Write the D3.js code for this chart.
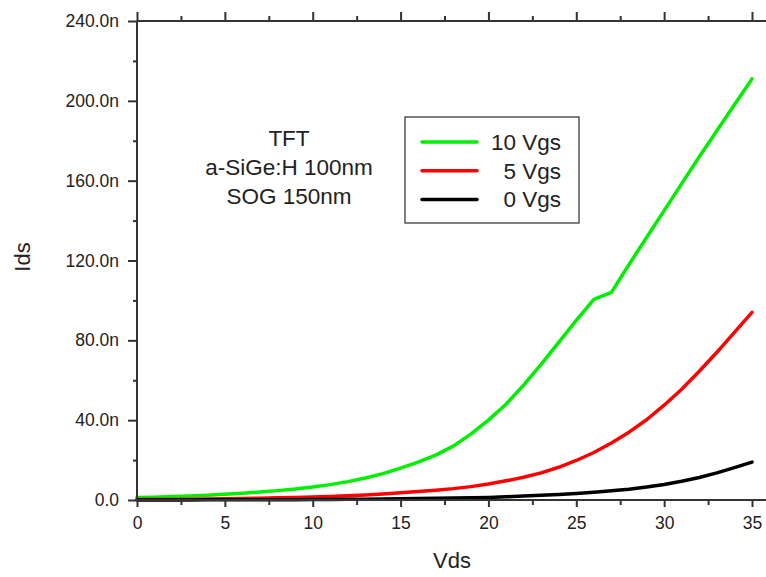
<!DOCTYPE html>
<html lang="en">
	<head>
		<meta charset="utf-8">
		<title>TFT Ids vs Vds</title>
		<script type="text/javascript" src="https://cdn.jsdelivr.net/npm/d3@7"></script>
		<style type="text/css">
			body { margin: 0; background: #fff; }
			text { font-family: "Liberation Sans", Arial, sans-serif; fill: #222; }
		</style>
	</head>
	<body>
		<script type="text/javascript">

			//Width and height
			var w = 766;
			var h = 577;

			//Data (Ids in nA)
			var vds = [0,1,2,3,4,5,6,7,8,9,10,11,12,13,14,15,16,17,18,19,20,21,22,23,24,25,26,27,28,29,30,31,32,33,34,35];
			var ids10 = [1.2,1.4,1.7,2.0,2.4,2.9,3.4,4.0,4.7,5.5,6.5,7.7,9.2,11.0,13.2,16.0,19.0,22.5,27.0,33.0,40.0,48.0,57.5,68.0,79.0,90.0,100.5,104.0,118.0,131.5,145.0,158.5,172.0,185.0,198.0,211.0];
			var ids5 = [0.2,0.25,0.3,0.4,0.5,0.6,0.75,0.9,1.1,1.3,1.5,1.8,2.1,2.5,3.0,3.6,4.2,4.9,5.7,6.7,8.0,9.6,11.4,13.6,16.4,19.8,23.8,28.6,34.0,40.2,47.5,55.5,64.5,74.0,84.0,94.0];
			var ids0 = [0.02,0.03,0.04,0.05,0.07,0.09,0.11,0.13,0.15,0.18,0.22,0.27,0.32,0.39,0.47,0.57,0.69,0.82,0.97,1.13,1.3,1.6,2.0,2.4,2.8,3.3,3.9,4.6,5.4,6.5,7.8,9.4,11.3,13.6,16.2,19.0];

			var seriesNames = ["10 Vgs", "5 Vgs", "0 Vgs"];
			var seriesColors = ["#00ee00", "#ff0000", "#000000"];
			var seriesValues = [ids10, ids5, ids0];

			var xTicks = [0,5,10,15,20,25,30,35];
			var xMinor = [2.5,7.5,12.5,17.5,22.5,27.5,32.5];
			var yTicks = [0,40,80,120,160,200,240];
			var yMinor = [20,60,100,140,180,220];
			var yTickLabels = ["0.0","40.0n","80.0n","120.0n","160.0n","200.0n","240.0n"];

			var noteLines = ["TFT", "a-SiGe:H 100nm", "SOG 150nm"];

			var plotLeft = 137, plotTop = 21, plotBottom = 500;

			var x = d3.scaleLinear().domain([0, 35]).range([plotLeft, 752]);
			var y = d3.scaleLinear().domain([0, 240]).range([plotBottom, plotTop]);

			//Create SVG element
			var svg = d3.select("body")
						.append("svg")
						.attr("width", w)
						.attr("height", h);

			//Lines
			var line = d3.line()
						 .x(function(d, i) { return x(vds[i]); })
						 .y(function(d) { return y(d); });

			svg.selectAll("path.series")
			   .data(seriesValues)
			   .enter()
			   .append("path")
			   .attr("class", "series")
			   .attr("d", line)
			   .attr("fill", "none")
			   .attr("stroke", function(d, i) { return seriesColors[i]; })
			   .attr("stroke-width", 3.5)
			   .attr("stroke-linejoin", "round")
			   .attr("stroke-linecap", "round");

			//Axes
			function styleAxis(g) {
				g.selectAll("path.domain").remove();
				g.selectAll(".tick line").attr("stroke", "#333").attr("stroke-width", 2);
				g.selectAll(".tick text").attr("fill", "#222")
				 .style("font-size", "17.5px")
				 .style("font-family", "Liberation Sans, Arial, sans-serif");
			}

			var xAxis = d3.axisBottom(x).tickValues(xTicks).tickSize(7).tickPadding(10);
			var gx = svg.append("g").attr("transform", "translate(0," + plotBottom + ")").call(xAxis);
			styleAxis(gx);
			var gxm = svg.append("g").attr("transform", "translate(0," + plotBottom + ")")
						 .call(d3.axisBottom(x).tickValues(xMinor).tickSize(5).tickFormat(""));
			styleAxis(gxm);

			var gt = svg.append("g").attr("transform", "translate(0," + plotTop + ")")
						.call(d3.axisTop(x).tickValues(xTicks).tickSize(9).tickFormat(""));
			styleAxis(gt);
			var gtm = svg.append("g").attr("transform", "translate(0," + plotTop + ")")
						 .call(d3.axisTop(x).tickValues(xMinor).tickSize(5).tickFormat(""));
			styleAxis(gtm);

			var yAxis = d3.axisLeft(y).tickValues(yTicks).tickSize(9).tickPadding(9)
						  .tickFormat(function(d, i) { return yTickLabels[i]; });
			var gy = svg.append("g").attr("transform", "translate(" + plotLeft + ",0)").call(yAxis);
			styleAxis(gy);
			var gym = svg.append("g").attr("transform", "translate(" + plotLeft + ",0)")
						 .call(d3.axisLeft(y).tickValues(yMinor).tickSize(4).tickFormat(""));
			styleAxis(gym);

			//Frame lines
			svg.append("line").attr("x1", plotLeft).attr("x2", w).attr("y1", plotBottom).attr("y2", plotBottom)
			   .attr("stroke", "#333").attr("stroke-width", 2);
			svg.append("line").attr("x1", plotLeft).attr("x2", w).attr("y1", plotTop).attr("y2", plotTop)
			   .attr("stroke", "#333").attr("stroke-width", 2);
			svg.append("line").attr("x1", plotLeft).attr("x2", plotLeft).attr("y1", plotTop).attr("y2", plotBottom)
			   .attr("stroke", "#333").attr("stroke-width", 2);

			//Axis titles
			svg.append("text")
			   .attr("x", 452)
			   .attr("y", 568)
			   .attr("text-anchor", "middle")
			   .attr("font-size", "22px")
			   .text("Vds");

			svg.append("text")
			   .attr("transform", "translate(30,257) rotate(-90)")
			   .attr("text-anchor", "middle")
			   .attr("font-size", "22px")
			   .text("Ids");

			//Note
			svg.selectAll("text.note")
			   .data(noteLines)
			   .enter()
			   .append("text")
			   .attr("class", "note")
			   .attr("x", 289)
			   .attr("y", function(d, i) { return 146 + i * 29; })
			   .attr("text-anchor", "middle")
			   .attr("font-size", "22.5px")
			   .text(function(d) { return d; });

			//Legend
			svg.append("rect")
			   .attr("x", 405).attr("y", 117)
			   .attr("width", 174).attr("height", 106)
			   .attr("fill", "#fff")
			   .attr("stroke", "#555")
			   .attr("stroke-width", 1.5);

			var legend = svg.selectAll("g.legend")
							.data(seriesNames)
							.enter()
							.append("g")
							.attr("class", "legend")
							.attr("transform", function(d, i) { return "translate(0," + (142 + i * 28.7) + ")"; });

			legend.append("line")
				  .attr("x1", 422).attr("x2", 477)
				  .attr("stroke", function(d, i) { return seriesColors[i]; })
				  .attr("stroke-width", 3.5)
				  .attr("stroke-linecap", "round");

			legend.append("text")
				  .attr("x", 561)
				  .attr("y", 8)
				  .attr("text-anchor", "end")
				  .attr("font-size", "22.5px")
				  .text(function(d) { return d; });

		</script>
	</body>
</html>
